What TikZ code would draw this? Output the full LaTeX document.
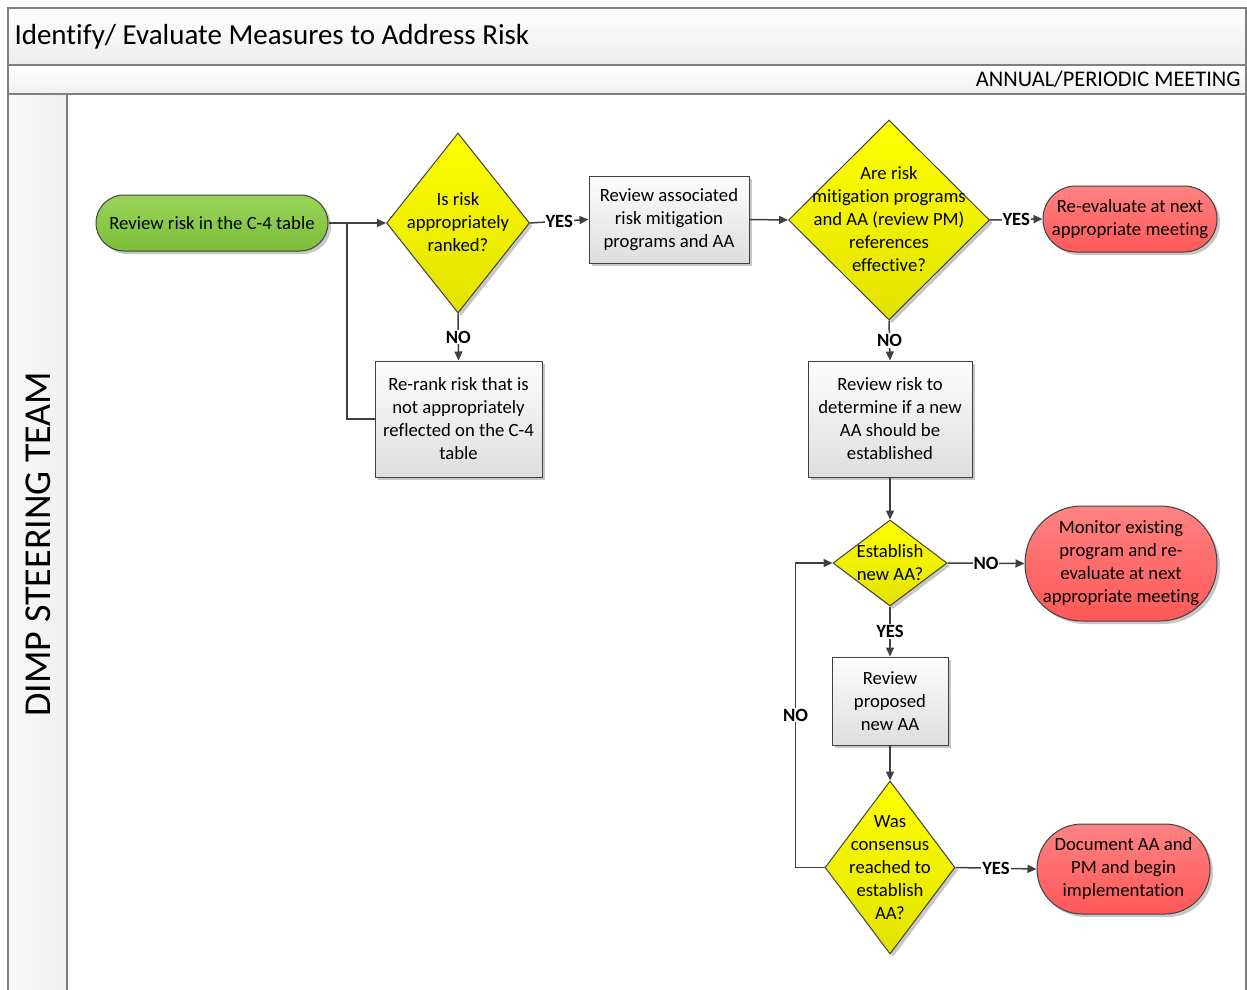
\documentclass[tikz,border=0pt]{standalone}
\usepackage{fontspec}
\setmainfont{Carlito}[Ligatures=NoCommon]
\usepackage{tikz}
\usetikzlibrary{positioning,shapes,shadows,arrows.meta}
\definecolor{lanegray}{RGB}{128,128,128}
\definecolor{linegray}{RGB}{64,64,64}
\definecolor{greentop}{RGB}{152,212,88}
\definecolor{greenbot}{RGB}{124,190,58}
\definecolor{yellowtop}{RGB}{255,255,0}
\definecolor{yellowbot}{RGB}{226,226,0}
\definecolor{redtop}{RGB}{255,130,130}
\definecolor{redbot}{RGB}{255,88,88}
\definecolor{boxtop}{RGB}{253,253,253}
\definecolor{boxbot}{RGB}{222,222,222}
\newcommand{\qtext}[1]{\makebox[0pt]{\lower2pt\vbox to 0pt{\vss\hbox{\begin{tabular}{@{}c@{}}#1\end{tabular}}\vss}}}
\tikzset{every picture/.style={line width=1pt},
  every node/.style={font=\fontsize{18.7}{23}\selectfont},
  softshadow/.style={drop shadow={shadow xshift=3pt,shadow yshift=-3pt,opacity=0.22,fill=black}},
  startbox/.style={rectangle,rounded corners=28pt,minimum width=232pt,minimum height=56pt,draw=linegray,top color=greentop,bottom color=greenbot,softshadow,inner sep=2pt,align=center},
  endbox/.style={rectangle,draw=linegray,top color=redtop,bottom color=redbot,softshadow,inner sep=2pt,align=center},
  process/.style={rectangle,draw=linegray,top color=boxtop,bottom color=boxbot,softshadow,inner sep=2pt,align=center},
  decision/.style={diamond,draw=linegray,top color=yellowtop,bottom color=yellowbot,softshadow,inner sep=0pt},
  flow/.style={draw=linegray,line width=1.5pt,-{Triangle[length=9pt,width=8pt]}},
  link/.style={draw=linegray,line width=1.5pt},
  yn/.style={font=\fontsize{18.7}{23}\selectfont\bfseries,fill=white,inner sep=1pt}
}
\begin{document}
\begin{tikzpicture}[x=1pt,y=1pt,yscale=-1,xscale=1]
\useasboundingbox (0,0) rectangle (1247,990);

%Shape: Swimlane bands
\shade[top color=white,bottom color=gray!14] (8,8) rectangle (1246,65);
\shade[top color=white,bottom color=gray!12] (8,65) rectangle (1246,94);
\shade[left color=gray!5,right color=gray!12] (8,94) rectangle (67,990);
\draw[lanegray,line width=1.3pt] (8,990) -- (8,8) -- (1246,8) -- (1246,990);
\draw[lanegray,line width=1.3pt] (8,65) -- (1246,65);
\draw[lanegray,line width=1.3pt] (8,94) -- (1246,94);
\draw[lanegray,line width=1.3pt] (67,94) -- (67,990);

% Text Node
\node[anchor=west,inner sep=0pt,font=\fontsize{29}{35}\selectfont] (title) at (14,37) {Identify/ Evaluate Measures to Address Risk};
% Text Node
\node[anchor=east,inner sep=0pt,font=\fontsize{22.4}{27}\selectfont] (meeting) at (1241,79) {ANNUAL/PERIODIC MEETING};
% Text Node
\node[rotate=90,inner sep=0pt,font=\fontsize{38}{46}\selectfont] (team) at (38,544) {DIMP STEERING TEAM};

%Shape: Flow steps
\node[startbox] (start) at (212,223) {Review risk in the C-4 table};
\node[decision,minimum width=143pt,minimum height=180pt] (rank) at (458,223) {\qtext{Is risk\\appropriately\\ranked?}};
\node[process,minimum width=160pt,minimum height=87pt] (assoc) at (669,219.5) {Review associated\\risk mitigation\\programs and AA};
\node[decision,minimum width=201pt,minimum height=200pt] (effective) at (889,220) {\qtext{Are risk\\mitigation programs\\and AA (review PM)\\references\\effective?}};
\node[endbox,minimum width=174pt,minimum height=66pt,rounded corners=33pt] (reeval) at (1130,219) {Re-evaluate at next\\appropriate meeting};
\node[process,minimum width=167pt,minimum height=116pt] (rerank) at (458.5,419) {Re-rank risk that is\\not appropriately\\reflected on the C-4\\table};
\node[process,minimum width=164pt,minimum height=116pt] (newaa) at (890,419) {Review risk to\\determine if a new\\AA should be\\established};
\node[decision,minimum width=114pt,minimum height=86pt] (establish) at (890,563) {\qtext{Establish\\new AA?}};
\node[endbox,minimum width=192pt,minimum height=115pt,rounded corners=57pt] (monitor) at (1121,563.5) {Monitor existing\\program and re-\\evaluate at next\\appropriate meeting};
\node[process,minimum width=116pt,minimum height=88pt] (proposed) at (890,701) {Review\\proposed\\new AA};
\node[decision,minimum width=130pt,minimum height=173pt] (consensus) at (890,867.5) {\qtext{Was\\consensus\\reached to\\establish\\AA?}};
\node[endbox,minimum width=173pt,minimum height=90pt,rounded corners=45pt] (document) at (1123.5,869) {Document AA and\\PM and begin\\implementation};

%Straight Lines
\coordinate (join) at (347,223);
\draw[flow] (start.east) -- (rank.west);
\draw[link] (rerank.west) -| (join);
\draw[flow] (rank.east) -- node[yn] {YES} (assoc.west);
\draw[flow] (rank.south) -- node[yn] {NO} (rerank.north);
\draw[flow] (assoc.east) -- (effective.west);
\draw[flow] (effective.east) -- node[yn] {YES} (reeval.west);
\draw[flow] (effective.south) -- node[yn] {NO} (newaa.north);
\draw[flow] (newaa.south) -- (establish.north);
\draw[flow] (establish.east) -- node[yn] {NO} (monitor.west);
\draw[flow] (establish.south) -- node[yn] {YES} (proposed.north);
\draw[flow] (proposed.south) -- (consensus.north);
\draw[flow] (consensus.east) -- node[yn] {YES} (document.west);
\draw[flow] (consensus.west) -- ++(-29,0) |- node[pos=0.25,yn] {NO} (establish.west);

\end{tikzpicture}
\end{document}
